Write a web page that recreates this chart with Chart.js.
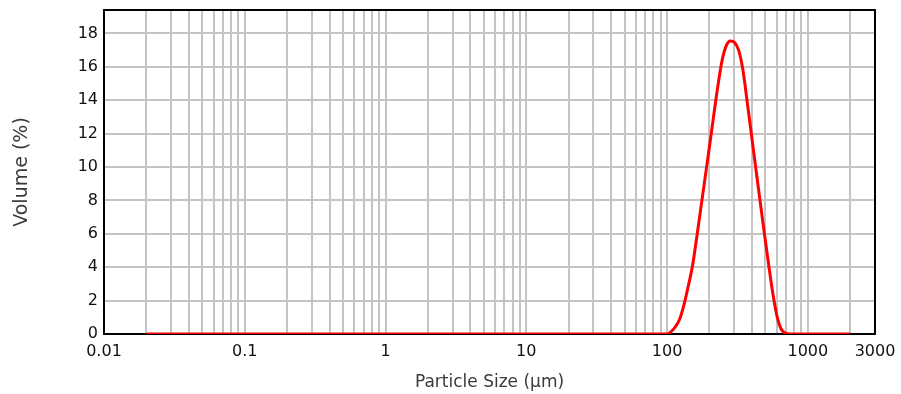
<!DOCTYPE html>
<html>
<head>
<meta charset="utf-8">
<script src="https://cdn.jsdelivr.net/npm/chart.js@4.4.1/dist/chart.umd.min.js"></script>
<style>
  html, body { margin: 0; padding: 0; background: #ffffff; }
  #wrap { width: 901px; height: 394px; position: relative; }
</style>
</head>
<body>
<div id="wrap"><canvas id="c" width="901" height="394"></canvas></div>
<script>
// Particle size (µm) and volume (%)
const sizes   = [0.02, 100, 107.2, 114.8, 123.0, 131.8, 141.3, 151.4, 162.2, 173.8, 186.2, 199.5, 213.8, 229.1, 245.5, 263.0, 281.8, 302.0, 323.6, 346.7, 371.5, 398.1, 426.6, 457.1, 489.8, 524.8, 562.3, 602.6, 645.7, 691.8, 741.3, 2000];
const volumes = [0,    0,   0.15,  0.45,  0.9,   1.75,  2.85,  4.05,  5.75,  7.55,  9.35,  11.15, 13.0,  14.8,  16.35, 17.25, 17.55, 17.45, 16.95, 15.75, 13.85, 11.9,  9.95,  8.0,   6.1,   4.25,  2.5,   1.1,   0.3,   0.05,  0,     0];

// Axis ticks / grid
const xLabels = [0.01, 0.1, 1, 10, 100, 1000, 3000];
const xGrid = [0.01,0.02,0.03,0.04,0.05,0.06,0.07,0.08,0.09,
               0.1,0.2,0.3,0.4,0.5,0.6,0.7,0.8,0.9,
               1,2,3,4,5,6,7,8,9,
               10,20,30,40,50,60,70,80,90,
               100,200,300,400,500,600,700,800,900,
               1000,2000,3000];
const yTicks = [0, 2, 4, 6, 8, 10, 12, 14, 16, 18];

const points = sizes.map((s, i) => ({ x: s, y: volumes[i] }));

const frame = {
  id: 'frame',
  beforeDatasetsDraw(chart) {
    const { ctx, chartArea: a } = chart;
    ctx.save();
    ctx.strokeStyle = '#000000';
    ctx.lineWidth = 2;
    ctx.strokeRect(a.left, a.top, a.right - a.left, a.bottom - a.top);
    ctx.restore();
  }
};

const tickFont = { family: 'DejaVu Sans', size: 16 };

new Chart(document.getElementById('c'), {
  type: 'line',
  data: {
    datasets: [{
      data: points,
      borderColor: '#ff0000',
      borderWidth: 3,
      pointRadius: 0,
      fill: false,
      cubicInterpolationMode: 'monotone'
    }]
  },
  options: {
    responsive: false,
    animation: false,
    events: [],
    layout: { padding: { left: 0, right: 26, top: 10, bottom: 0 } },
    plugins: { legend: { display: false }, tooltip: { enabled: false } },
    scales: {
      x: {
        type: 'logarithmic',
        min: 0.01,
        max: 3000,
        afterBuildTicks(scale) { scale.ticks = xGrid.map(v => ({ value: v })); },
        afterFit(scale) { scale.height = 60; scale.paddingRight = 0; scale.paddingLeft = 0; },
        ticks: {
          autoSkip: false,
          maxRotation: 0,
          padding: 8,
          color: '#111111',
          font: tickFont,
          callback(value) {
            const v = Number(value);
            return xLabels.some(l => Math.abs(l - v) / l < 1e-6) ? String(v) : '';
          }
        },
        grid: {
          drawTicks: false,
          lineWidth: 2,
          color(ctx) {
            const v = ctx.tick ? ctx.tick.value : null;
            return (v === 0.01 || v === 3000) ? 'rgba(0,0,0,0)' : '#c4c4c4';
          }
        },
        border: { display: false },
        title: {
          display: true,
          text: 'Particle Size (µm)',
          color: '#3a3a3a',
          font: { family: 'DejaVu Sans', size: 17 },
          padding: { top: 0, bottom: 1 }
        }
      },
      y: {
        type: 'linear',
        min: 0,
        max: 19.4,
        afterBuildTicks(scale) { scale.ticks = yTicks.map(v => ({ value: v })); },
        afterFit(scale) { scale.width = 104; scale.paddingTop = 0; scale.paddingBottom = 0; },
        ticks: {
          padding: 6,
          color: '#111111',
          font: tickFont
        },
        grid: {
          drawTicks: false,
          lineWidth: 2,
          color(ctx) {
            const v = ctx.tick ? ctx.tick.value : null;
            return v === 0 ? 'rgba(0,0,0,0)' : '#c4c4c4';
          }
        },
        border: { display: false },
        title: {
          display: true,
          text: 'Volume (%)',
          color: '#3a3a3a',
          font: { family: 'DejaVu Sans', size: 19 },
          padding: { top: 11, bottom: 0 }
        }
      }
    }
  },
  plugins: [frame]
});
</script>
</body>
</html>
